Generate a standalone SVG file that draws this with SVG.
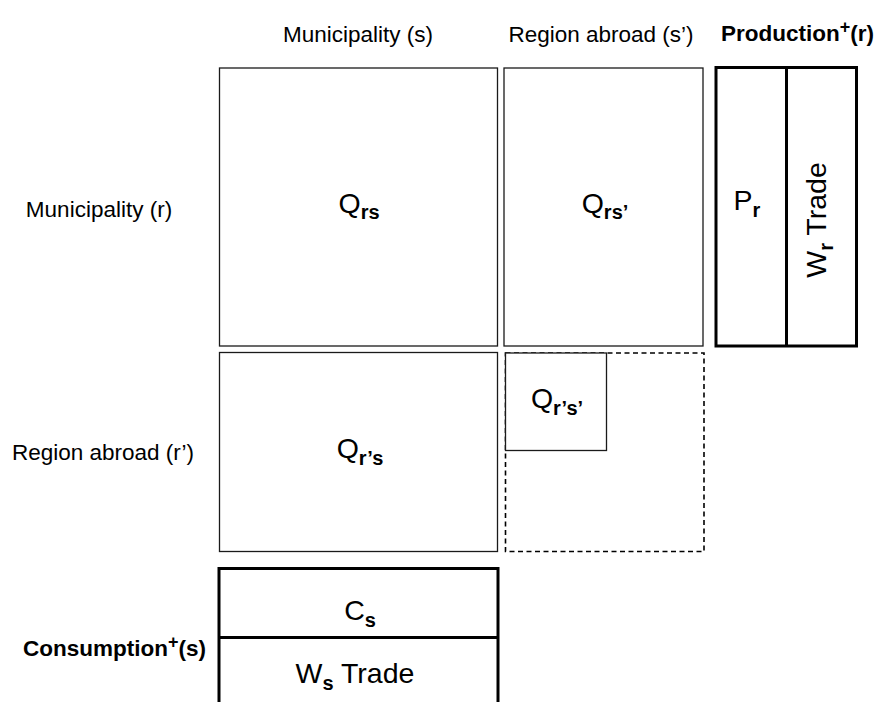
<svg xmlns="http://www.w3.org/2000/svg" width="880" height="702" viewBox="0 0 880 702">
<style>
text{font-family:"Liberation Sans",Arial,sans-serif;fill:#000}
.lbl{font-size:22.5px}
.bold{font-size:22.5px;font-weight:bold}
.q{font-size:28.5px}
.sub{font-size:20px;font-weight:bold}
.thin{fill:#fff;stroke:#1a1a1a;stroke-width:1.3}
.thick{fill:#fff;stroke:#000;stroke-width:3}
.dash{fill:none;stroke:#000;stroke-width:1.6;stroke-dasharray:5,3.5}
</style>
<rect width="880" height="702" fill="#fff"/>
<g id="headers">
<text class="lbl" x="358" y="42" text-anchor="middle">Municipality (s)</text>
<text class="lbl" x="601" y="42" text-anchor="middle">Region abroad (s’)</text>
<text class="bold" x="721" y="41">Production<tspan font-size="18" dy="-8">+</tspan><tspan dy="8">(r)</tspan></text>
<text class="lbl" x="99" y="217" text-anchor="middle">Municipality (r)</text>
<text class="lbl" x="103" y="460" text-anchor="middle">Region abroad (r’)</text>
<text class="bold" x="23" y="656">Consumption<tspan font-size="18" dy="-8">+</tspan><tspan dy="8">(s)</tspan></text>
</g>
<g id="Qrs">
<rect class="thin" x="219.5" y="68" width="278" height="278"/>
<text class="q" x="359" y="213" text-anchor="middle">Q<tspan class="sub" dy="6">rs</tspan></text>
</g>
<g id="Qrs_prime">
<rect class="thin" x="504" y="68" width="199" height="278"/>
<text class="q" x="605" y="213" text-anchor="middle">Q<tspan class="sub" dy="6">rs’</tspan></text>
</g>
<g id="Qr_prime_s">
<rect class="thin" x="219.5" y="352.5" width="278" height="199"/>
<text class="q" x="360" y="458" text-anchor="middle">Q<tspan class="sub" dy="7">r’s</tspan></text>
</g>
<g id="abroad_block">
<rect class="dash" x="505.5" y="353" width="198.5" height="198.5"/>
</g>
<g id="Qr_prime_s_prime">
<rect class="thin" x="505.5" y="353" width="101" height="97.5"/>
<text class="q" x="557" y="408" text-anchor="middle">Q<tspan class="sub" dy="7">r’s’</tspan></text>
</g>
<g id="production">
<rect class="thick" x="716" y="67.5" width="140.5" height="278.5"/>
<line x1="786.5" y1="67.5" x2="786.5" y2="346" stroke="#000" stroke-width="3"/>
<text class="q" x="747" y="210" text-anchor="middle">P<tspan class="sub" dy="7">r</tspan></text>
<text class="q" transform="translate(826,220) rotate(-90)" text-anchor="middle">W<tspan class="sub" dy="7">r</tspan><tspan dy="-7"> Trade</tspan></text>
</g>
<g id="consumption">
<rect class="thick" x="219" y="568.5" width="279" height="200"/>
<line x1="219" y1="637.5" x2="498" y2="637.5" stroke="#000" stroke-width="3"/>
<text class="q" x="360" y="620" text-anchor="middle">C<tspan class="sub" dy="7">s</tspan></text>
<text class="q" x="355" y="683" text-anchor="middle">W<tspan class="sub" dy="7">s</tspan><tspan dy="-7"> Trade</tspan></text>
</g>
<g id="connectors"/>
</svg>
